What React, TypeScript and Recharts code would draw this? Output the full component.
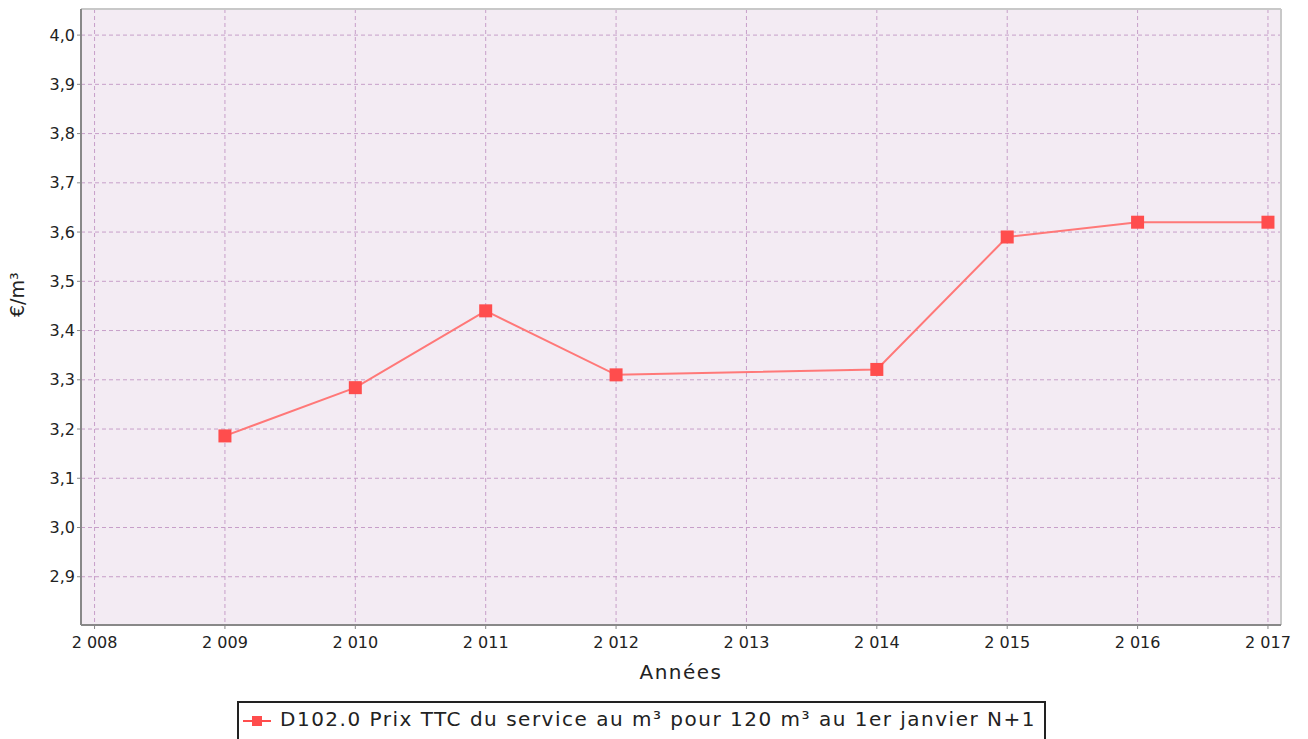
import React from "react";
import {
  LineChart,
  Line,
  XAxis,
  YAxis,
  CartesianGrid,
  ReferenceLine,
} from "recharts";

// années et prix TTC (€/m³) ; pas de valeur pour 2013
const annees = [2009, 2010, 2011, 2012, 2014, 2015, 2016, 2017];
const prix = [3.186, 3.284, 3.44, 3.31, 3.321, 3.59, 3.62, 3.62];

const xTicks = [2008, 2009, 2010, 2011, 2012, 2013, 2014, 2015, 2016, 2017];
const yTicks = [2.9, 3.0, 3.1, 3.2, 3.3, 3.4, 3.5, 3.6, 3.7, 3.8, 3.9, 4.0];

const serieNom = "D102.0 Prix TTC du service au m³ pour 120 m³ au 1er janvier N+1";

const data = annees.map((a, i) => ({ annee: a, prix: prix[i] }));

const X_DOMAIN: [number, number] = [2007.896, 2017.1];
const Y_DOMAIN: [number, number] = [2.802, 4.053];

const FONT = "'DejaVu Sans', sans-serif";
const ROUGE = "#ff4d4d";

const fmtAnnee = (v: number) => String(v).replace(/^(\d)(\d{3})$/, "$1 $2");
const fmtPrix = (v: number) => v.toFixed(1).replace(".", ",");

// marqueur carré
const Carre = (props: any) => {
  const { cx, cy } = props;
  if (cx == null || cy == null) return null;
  return <rect x={cx - 6.5} y={cy - 6.5} width={13} height={13} fill={ROUGE} />;
};

// légende en bas (la boîte est coupée par le bord de l'image, comme sur l'original)
const LegendeBox = () => (
  <div
    style={{
      position: "absolute",
      left: 237,
      top: 701,
      width: 809,
      height: 50,
      border: "2px solid #222",
      background: "#fff",
      boxSizing: "border-box",
      fontFamily: FONT,
      fontSize: 20,
      letterSpacing: 1.5,
      color: "#222",
      whiteSpace: "nowrap",
    }}
  >
    <svg width={30} height={20} style={{ position: "absolute", left: 3, top: 8 }}>
      <line x1={1} y1={10} x2={29} y2={10} stroke={ROUGE} strokeWidth={2} />
      <rect x={10} y={5} width={10} height={10} fill={ROUGE} />
    </svg>
    <span style={{ position: "absolute", left: 41, top: 4 }}>{serieNom}</span>
  </div>
);

export default function App() {
  return (
    <div style={{ position: "absolute", left: 0, top: 0, width: 1308, height: 739, background: "#fff", overflow: "hidden" }}>
      <LineChart
        width={1308}
        height={739}
        data={data}
        margin={{ top: 9, right: 27, left: 21, bottom: 84 }}
      >
        <CartesianGrid
          stroke="#c79fc9"
          strokeDasharray="4 3"
          fill="#f3ebf3"
          horizontalValues={yTicks}
          verticalValues={xTicks}
        />
        <XAxis
          dataKey="annee"
          type="number"
          domain={X_DOMAIN}
          ticks={xTicks}
          allowDataOverflow
          tickFormatter={fmtAnnee}
          height={30}
          axisLine={{ stroke: "#888", strokeWidth: 2 }}
          tickLine={{ stroke: "#888" }}
          tickSize={4}
          tickMargin={8}
          tick={{ fill: "#222", fontSize: 16, fontFamily: FONT }}
          label={{
            value: "Années",
            position: "insideBottom",
            offset: -24,
            fill: "#222",
            fontSize: 20,
            fontFamily: FONT,
            letterSpacing: 1.5,
          }}
        />
        <YAxis
          type="number"
          domain={Y_DOMAIN}
          ticks={yTicks}
          allowDataOverflow
          tickFormatter={fmtPrix}
          width={60}
          axisLine={{ stroke: "#888", strokeWidth: 2 }}
          tickLine={{ stroke: "#888" }}
          tickSize={4}
          tick={{ fill: "#222", fontSize: 16, fontFamily: FONT }}
          label={{
            value: "€/m³",
            angle: -90,
            position: "insideLeft",
            offset: -4,
            fill: "#222",
            fontSize: 19,
            fontFamily: FONT,
          }}
        />
        <ReferenceLine y={Y_DOMAIN[1]} stroke="#c8c8c8" strokeWidth={2} ifOverflow="visible" />
        <ReferenceLine x={X_DOMAIN[1]} stroke="#c8c8c8" strokeWidth={2} ifOverflow="visible" />
        <Line
          type="linear"
          dataKey="prix"
          name={serieNom}
          stroke="#ff7878"
          strokeWidth={2}
          dot={<Carre />}
          activeDot={false}
          isAnimationActive={false}
        />
      </LineChart>
      <LegendeBox />
    </div>
  );
}
